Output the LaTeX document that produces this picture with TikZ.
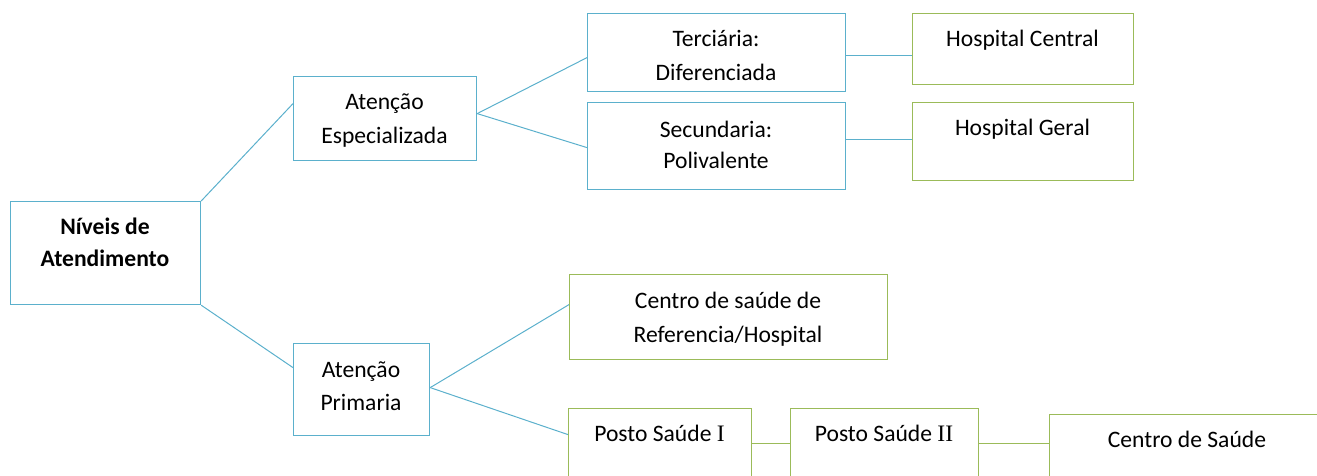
\documentclass[tikz,border=0pt]{standalone}
\usepackage{fontspec}
\setmainfont{Carlito}
\newfontfamily\romfont{Liberation Serif}
\usetikzlibrary{calc}
\definecolor{lblue}{RGB}{91,176,204}
\definecolor{lgreen}{RGB}{155,187,89}
\tikzset{
  bluebox/.style={draw=lblue, line width=0.9pt, rectangle, inner sep=0pt},
  greenbox/.style={draw=lgreen, line width=0.9pt, rectangle, inner sep=0pt},
  conn/.style={draw=lblue, line width=0.75pt},
  gconn/.style={draw=lgreen, line width=0.75pt},
  txt/.style={anchor=base, inner sep=0pt, font=\fontsize{17.7}{24}\selectfont},
  btxt/.style={txt, font=\fontsize{17.7}{24}\selectfont\bfseries}
}
\newcommand{\mybox}[6]{%
  \node[#6, anchor=north west, minimum width={(#4-#2)*0.75pt}, minimum height={(#5-#3)*0.75pt}] (#1) at (#2,#3) {};}
\begin{document}
\begin{tikzpicture}[x=0.75pt,y=-0.75pt]
\useasboundingbox (0,0) rectangle (1317,475);
\clip (0,0) rectangle (1317,475);
% boxes
\mybox{niv}{10}{201}{200}{304}{bluebox}
\mybox{ae}{293}{76}{476}{160}{bluebox}
\mybox{ter}{587}{13}{845}{91}{bluebox}
\mybox{sec}{587}{102}{845}{189}{bluebox}
\mybox{hc}{912}{13}{1133}{84}{greenbox}
\mybox{hg}{912}{102}{1133}{180}{greenbox}
\mybox{ap}{293}{343}{429}{435}{bluebox}
\mybox{csr}{569}{274}{887}{359}{greenbox}
\mybox{pa}{568}{408}{751}{495}{greenbox}
\mybox{pb}{790}{408}{978}{495}{greenbox}
\mybox{cs}{1049}{414}{1330}{495}{greenbox}
% texts
\node[btxt] (niv1) at (105,234) {Níveis de};
\node[btxt] (niv2) at (105,266) {Atendimento};
\node[txt] (ae1) at (384.5,109) {Atenção};
\node[txt] (ae2) at (384.5,143) {Especializada};
\node[txt] (ter1) at (716,46) {Terciária:};
\node[txt] (ter2) at (716,80) {Diferenciada};
\node[txt] (sec1) at (716,137) {Secundaria:};
\node[txt] (sec2) at (716,168) {Polivalente};
\node[txt] (hc1) at (1022.5,46) {Hospital Central};
\node[txt] (hg1) at (1022.5,135) {Hospital Geral};
\node[txt] (ap1) at (361,377) {Atenção};
\node[txt] (ap2) at (361,410) {Primaria};
\node[txt] (csr1) at (728,308) {Centro de saúde de};
\node[txt] (csr2) at (728,342) {Referencia/Hospital};
\node[txt] (pa1) at (659.5,441) {Posto Saúde {\romfont I}};
\node[txt] (pb1) at (884,441) {Posto Saúde {\romfont II}};
\node[txt] (cs1) at (1187,447) {Centro de Saúde};
% connectors
\draw[conn] (niv.north east) -- ($(ae.west)+(0,-15)$);
\draw[conn] (niv.south east) -- ($(ap.west)+(0,-22)$);
\draw[conn] ($(ae.east)+(0,-5)$) -- ($(ter.west)+(0,5)$);
\draw[conn] ($(ae.east)+(0,-5)$) -- ($(sec.west)+(0,1.5)$);
\draw[conn] ($(ter.east)+(0,3)$) -- ($(hc.west)+(0,6.5)$);
\draw[conn] ($(sec.east)+(0,-6.5)$) -- ($(hg.west)+(0,-2)$);
\draw[conn] ($(ap.east)+(0,-2)$) -- ($(csr.west)+(0,-12.5)$);
\draw[conn] ($(ap.east)+(0,-2)$) -- ($(pa.west)+(0,-17.5)$);
\draw[gconn] ($(pa.east)+(0,-8.5)$) -- ($(pb.west)+(0,-8.5)$);
\draw[gconn] ($(pb.east)+(0,-8.5)$) -- ($(cs.west)+(0,-11.5)$);
\end{tikzpicture}
\end{document}
